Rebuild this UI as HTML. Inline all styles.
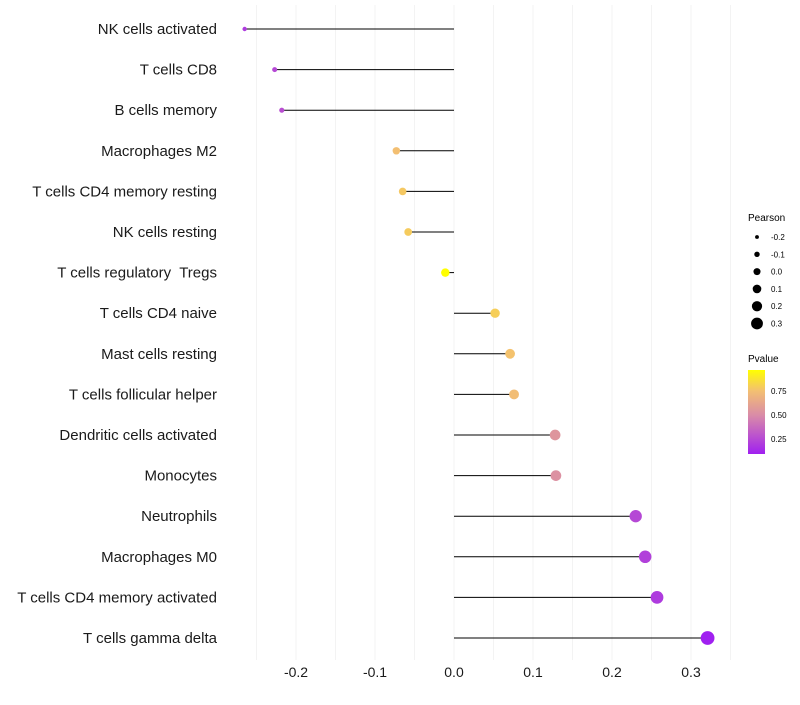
<!DOCTYPE html>
<html><head><meta charset="utf-8"><style>
body{margin:0;background:#fff;font-family:"Liberation Sans",sans-serif}
svg text{font-family:"Liberation Sans",sans-serif;white-space:pre}
</style></head><body>
<svg id="chart" width="800" height="700">
<defs><linearGradient id="pg" x1="0" y1="1" x2="0" y2="0">
<stop offset="0" stop-color="#A020F0"/><stop offset="0.46" stop-color="#D98BA8"/><stop offset="0.75" stop-color="#F3BF72"/><stop offset="1" stop-color="#FFFF00"/></linearGradient></defs>
<g id="grid"></g>
<g id="marks"></g>
<g id="ylab"></g>
<g id="xlab"></g>
<g id="sleg">
<text x="748" y="221" font-size="10">Pearson</text>
</g>
<g>
<text x="748" y="362" font-size="10">Pvalue</text>
<rect x="748" y="370" width="17" height="84" fill="url(#pg)"/>
<text x="771" y="394" font-size="8">0.75</text>
<text x="771" y="418" font-size="8">0.50</text>
<text x="771" y="442" font-size="8">0.25</text>
</g>
</svg>
<script>
const categories=["NK cells activated","T cells CD8","B cells memory","Macrophages M2","T cells CD4 memory resting","NK cells resting","T cells regulatory  Tregs","T cells CD4 naive","Mast cells resting","T cells follicular helper","Dendritic cells activated","Monocytes","Neutrophils","Macrophages M0","T cells CD4 memory activated","T cells gamma delta"];
const pearson=[-0.265,-0.227,-0.218,-0.073,-0.065,-0.058,-0.011,0.052,0.071,0.076,0.128,0.129,0.230,0.242,0.257,0.321];
const pvalue=[0.2,0.25,0.27,0.75,0.78,0.79,0.97,0.8,0.76,0.74,0.55,0.53,0.25,0.22,0.2,0.1];
const xTicks=[-0.2,-0.1,0.0,0.1,0.2,0.3];
const xTickLabels=["-0.2","-0.1","0.0","0.1","0.2","0.3"];
const sizeBreaks=[-0.2,-0.1,0.0,0.1,0.2,0.3];
const ns="http://www.w3.org/2000/svg";
const X=v=>454+v*790;
const Y=i=>29+i*40.6;
const R=v=>2.2+(v+0.265)*8;
function lerp(a,b,t){return a.map((x,i)=>Math.round(x+(b[i]-x)*t));}
const stops=[[0.1,[160,32,240]],[0.5,[217,139,168]],[0.75,[243,191,114]],[0.97,[255,255,0]]];
function col(p){if(p<=stops[0][0])return"rgb("+stops[0][1]+")";for(let i=1;i<stops.length;i++){if(p<=stops[i][0]){const t=(p-stops[i-1][0])/(stops[i][0]-stops[i-1][0]);return"rgb("+lerp(stops[i-1][1],stops[i][1],t)+")";}}return"rgb(255,255,0)";}
function mk(t,a,p){const e=document.createElementNS(ns,t);for(const k in a)e.setAttribute(k,a[k]);p.appendChild(e);return e;}
const grid=document.getElementById('grid'),marks=document.getElementById('marks'),ylab=document.getElementById('ylab'),xlab=document.getElementById('xlab');
for(let k=-5;k<=7;k++){const v=k*0.05;const g=mk('line',{x1:X(v),x2:X(v),y1:5,y2:660,stroke:'#f0f0f0','stroke-width':0.8},grid);

}
categories.forEach((c,i)=>{
 const l=mk('line',{x1:X(0),x2:X(pearson[i]),y1:Y(i),y2:Y(i),stroke:'#000','stroke-width':1},marks);
 
 
 const d=mk('circle',{cx:X(pearson[i]),cy:Y(i),r:R(pearson[i]),fill:col(pvalue[i])},marks);
 
 
 const t=mk('text',{x:217,y:Y(i)+5,'text-anchor':'end','font-size':15,fill:'#1a1a1a'},ylab);t.textContent=c;
 
 
});
xTicks.forEach((v,i)=>{const t=mk('text',{x:X(v),y:677,'text-anchor':'middle','font-size':14,fill:'#1a1a1a'},xlab);t.textContent=xTickLabels[i];

});
const sleg=document.getElementById('sleg');
sizeBreaks.forEach((v,i)=>{const y=237+i*17.3;
 const c=mk('circle',{cx:757,cy:y,r:R(v)-0.8,fill:'#000'},sleg);
 
 
 const t=mk('text',{x:771,y:y+3,'font-size':8},sleg);t.textContent=(v<0?"-":"")+Math.abs(v).toFixed(1);
 
 });
</script>
</body></html>
